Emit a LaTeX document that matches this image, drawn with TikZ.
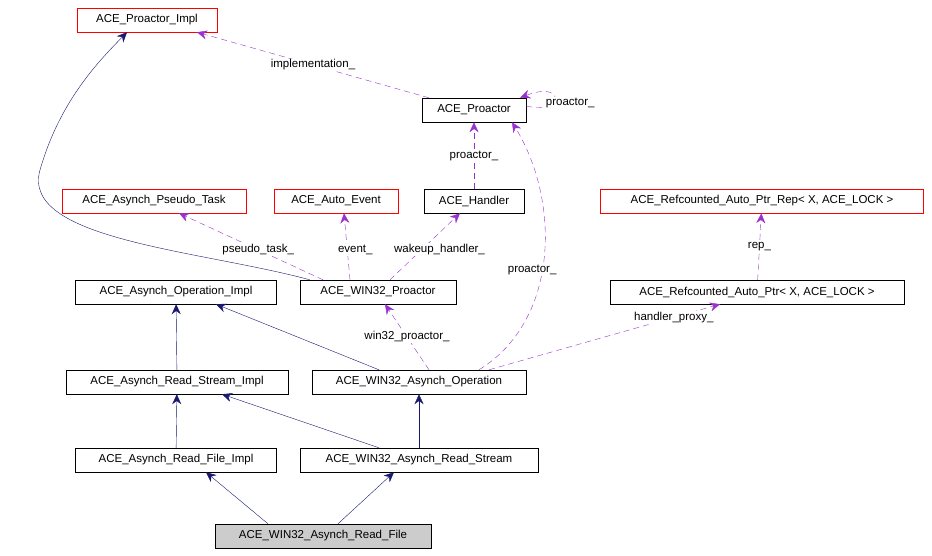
\documentclass[tikz,border=0pt]{standalone}
\usepackage{fontspec}
\setmainfont{Liberation Sans}
\usetikzlibrary{arrows.meta}
\definecolor{inh}{RGB}{25,25,112}
\definecolor{use}{RGB}{153,50,204}
\tikzset{
  cls/.style={draw,fill=white,inner sep=0pt,minimum height=24pt,font=\fontsize{11.5}{13}\selectfont},
  ext/.style={cls,draw=red},
  base/.style={draw=inh,-{Stealth[length=10pt,width=9pt]}},
  ref/.style={draw=use,dashed,dash pattern=on 6pt off 4pt,-{Stealth[length=10pt,width=9pt]}},
  lbl/.style={font=\fontsize{11.5}{13}\selectfont,fill=white,inner sep=1pt}
}
\begin{document}
\begin{tikzpicture}[x=1pt,y=-1pt]
  \useasboundingbox (0,0) rectangle (932,555);
  % classes
  \node[ext,minimum width=140pt] (impl) at (147,20) {ACE\_Proactor\_Impl};
  \node[cls,minimum width=104pt] (pro) at (474,110) {ACE\_Proactor};
  \node[ext,minimum width=184pt] (task) at (154,201) {ACE\_Asynch\_Pseudo\_Task};
  \node[ext,minimum width=124pt] (event) at (336,201) {ACE\_Auto\_Event};
  \node[cls,minimum width=100pt] (hdl) at (474,201) {ACE\_Handler};
  \node[ext,minimum width=323pt] (rep) at (762,201) {ACE\_Refcounted\_Auto\_Ptr\_Rep< X, ACE\_LOCK >};
  \node[cls,minimum width=201pt] (opimpl) at (176,292) {ACE\_Asynch\_Operation\_Impl};
  \node[cls,minimum width=156pt] (wpro) at (378,292) {ACE\_WIN32\_Proactor};
  \node[cls,minimum width=294pt] (ptr) at (757,292) {ACE\_Refcounted\_Auto\_Ptr< X, ACE\_LOCK >};
  \node[cls,minimum width=222pt] (rsimpl) at (177,382) {ACE\_Asynch\_Read\_Stream\_Impl};
  \node[cls,minimum width=214pt] (wop) at (419,382) {ACE\_WIN32\_Asynch\_Operation};
  \node[cls,minimum width=201pt] (rfimpl) at (176,460) {ACE\_Asynch\_Read\_File\_Impl};
  \node[cls,minimum width=238pt] (wrs) at (419,460) {ACE\_WIN32\_Asynch\_Read\_Stream};
  \node[cls,fill=black!20,minimum width=216pt] (wrf) at (323,536) {ACE\_WIN32\_Asynch\_Read\_File};
  % inheritance
  \draw[base] (wpro.north west) ++(10,0) .. controls (200,250) and (20,240) .. (40,170)
    .. controls (60,100) and (100,60) .. ([xshift=-20pt]impl.south);
  \draw[base] (rsimpl) -- (opimpl);
  \draw[base] (rfimpl) -- (rsimpl);
  \draw[base] ([xshift=-40pt]wop.north) -- ([xshift=40pt]opimpl.south);
  \draw[base] (wrs) -- (wop);
  \draw[base] ([xshift=-40pt]wrs.north) -- ([xshift=45pt]rsimpl.south);
  \draw[base] ([xshift=-55pt]wrf.north) -- ([xshift=30pt]rfimpl.south);
  \draw[base] ([xshift=15pt]wrf.north) -- ([xshift=-25pt]wrs.south);
  % usage
  \draw[ref] ([xshift=-45pt]pro.north) -- node[lbl]{implementation\_} ([xshift=50pt]impl.south);
  \draw[ref] ([yshift=4pt]pro.east) .. controls (565,115) and (565,80) .. node[lbl,right,pos=0.2,yshift=4pt]{proactor\_} ([xshift=-6pt]pro.north east);
  \draw[ref] (hdl) -- node[lbl]{proactor\_} (pro);
  \draw[ref] ([xshift=-55pt]wpro.north) -- node[lbl,pos=0.45]{pseudo\_task\_} ([xshift=25pt]task.south);
  \draw[ref] ([xshift=-28pt]wpro.north) -- node[lbl,pos=0.45,xshift=8pt]{event\_} ([xshift=8pt]event.south);
  \draw[ref] ([xshift=12pt]wpro.north) -- node[lbl,pos=0.45,xshift=18pt]{wakeup\_handler\_} ([xshift=-14pt]hdl.south);
  \draw[ref] ([xshift=60pt]wop.north) .. controls (560,320) and (560,200) .. node[lbl,pos=0.45,xshift=-10pt]{proactor\_} ([xshift=38pt]pro.south);
  \draw[ref] ([xshift=10pt]wop.north) -- node[lbl]{win32\_proactor\_} ([xshift=7pt]wpro.south);
  \draw[ref] ([xshift=70pt]wop.north) -- node[lbl,pos=0.8]{handler\_proxy\_} ([xshift=-37pt]ptr.south);
  \draw[ref] (ptr) -- node[lbl]{rep\_} (rep);
\end{tikzpicture}
\end{document}
